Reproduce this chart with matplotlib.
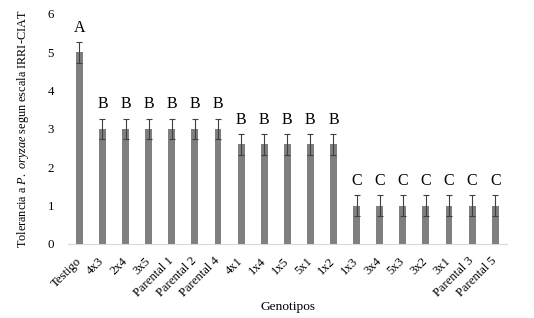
import matplotlib.pyplot as plt
import numpy as np

plt.rcParams['font.family'] = ['Liberation Serif', 'DejaVu Serif']
plt.rcParams['mathtext.fontset'] = 'custom'
plt.rcParams['mathtext.rm'] = 'Liberation Serif'
plt.rcParams['mathtext.it'] = 'Liberation Serif:italic'

genotipos = ["Testigo", "4x3", "2x4", "3x5", "Parental 1", "Parental 2", "Parental 4",
             "4x1", "1x4", "1x5", "5x1", "1x2",
             "1x3", "3x4", "5x3", "3x2", "3x1", "Parental 3", "Parental 5"]
tolerancia = [5, 3, 3, 3, 3, 3, 3, 2.6, 2.6, 2.6, 2.6, 2.6, 1, 1, 1, 1, 1, 1, 1]
error = [0.27] * len(genotipos)
letras = ["A", "B", "B", "B", "B", "B", "B", "B", "B", "B", "B", "B",
          "C", "C", "C", "C", "C", "C", "C"]

fig = plt.figure(figsize=(5.34, 3.18), dpi=100)
ax = fig.add_axes([0.127, 0.233, 0.822, 0.723])

x = np.arange(len(genotipos))
ax.bar(x, tolerancia, width=0.3, color="#7f7f7f", zorder=2)
ax.errorbar(x, tolerancia, yerr=error, fmt="none", ecolor="#404040",
            elinewidth=0.8, capsize=2.5, capthick=0.8, zorder=3)

for xi, v, e, l in zip(x, tolerancia, error, letras):
    ax.text(xi, v + e + 0.37, l, ha="center", va="center", fontsize=11.5)

ax.set_xlim(-0.5, len(genotipos) - 0.5)
ax.set_ylim(0, 6)
ax.set_yticks(range(0, 7))
ax.set_xticks(x)
ax.set_xticklabels(genotipos, rotation=45, ha="right", va="center",
                   rotation_mode="anchor", fontsize=9.1)
ax.tick_params(axis="y", length=0, labelsize=9.3, pad=10)
ax.tick_params(axis="x", length=0, pad=11)

for s in ["top", "right", "left"]:
    ax.spines[s].set_visible(False)
ax.spines["bottom"].set_color("#d9d9d9")

ax.set_ylabel(r"Tolerancia a $\mathit{P.\ oryzae}$ segun escala IRRI-CIAT", fontsize=8.8, labelpad=12)
fig.text(0.54, 0.035, "Genotipos", ha="center", va="center", fontsize=9.6)

fig.savefig("out.png", dpi=100)
